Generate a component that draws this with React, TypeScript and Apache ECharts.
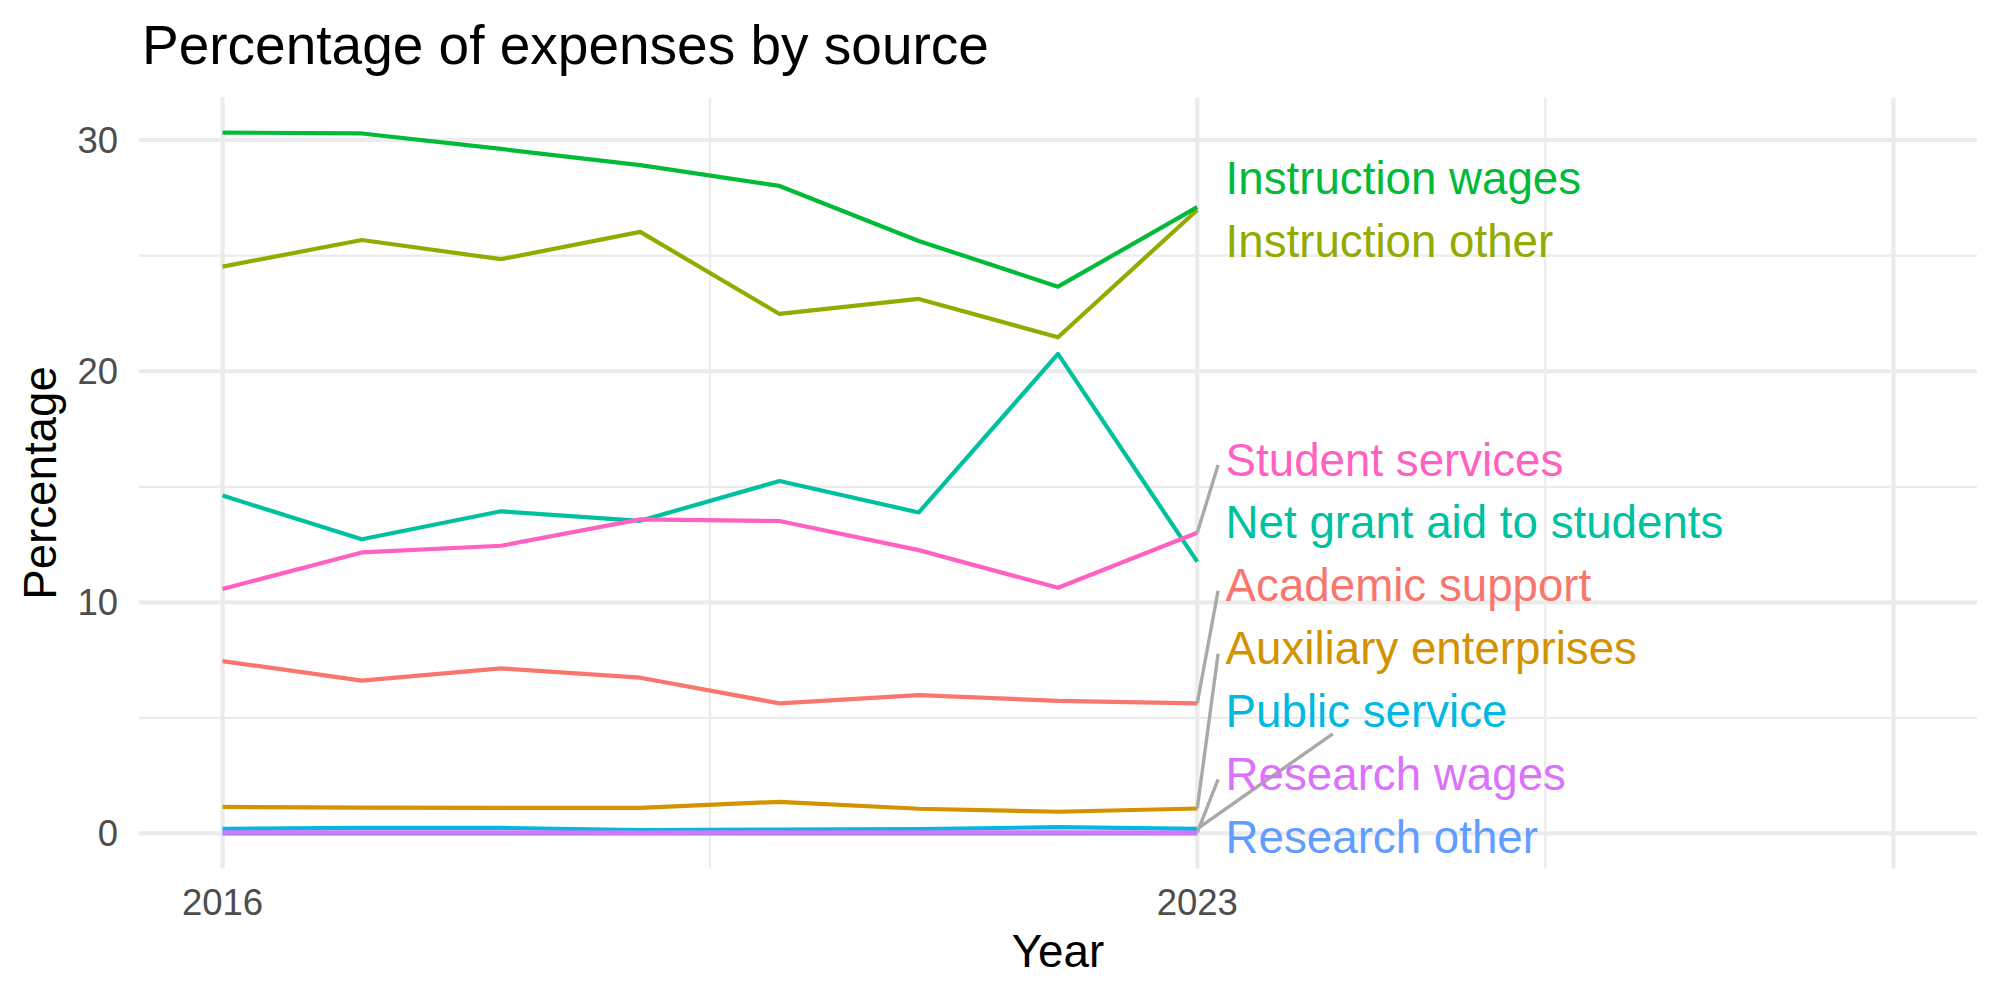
import React, { useEffect, useRef } from "react";
import * as echarts from "echarts";

// Share of total expenses by source, 2016–2023 (percent)
const years = [2016, 2017, 2018, 2019, 2020, 2021, 2022, 2023];
const academicSupport = [7.46, 6.61, 7.14, 6.74, 5.63, 5.99, 5.74, 5.63];
const auxiliaryEnterprises = [1.15, 1.12, 1.11, 1.11, 1.37, 1.07, 0.94, 1.08];
const instructionOther = [24.53, 25.68, 24.85, 26.03, 22.48, 23.13, 21.47, 26.98];
const instructionWages = [30.33, 30.29, 29.62, 28.92, 28.02, 25.64, 23.66, 27.1];
const netGrantAid = [14.62, 12.73, 13.94, 13.53, 15.25, 13.89, 20.75, 11.76];
const publicService = [0.2, 0.24, 0.24, 0.14, 0.17, 0.19, 0.27, 0.2];
const researchOther = [0, 0, 0, 0, 0, 0, 0, 0];
const researchWages = [0.05, 0.05, 0.05, 0.04, 0.05, 0.05, 0.05, 0.04];
const studentServices = [10.58, 12.16, 12.45, 13.59, 13.52, 12.26, 10.63, 13.01];

const sourceNames = [
  "Academic support",
  "Auxiliary enterprises",
  "Instruction other",
  "Instruction wages",
  "Net grant aid to students",
  "Public service",
  "Research other",
  "Research wages",
  "Student services",
];
const sourceValues = [
  academicSupport,
  auxiliaryEnterprises,
  instructionOther,
  instructionWages,
  netGrantAid,
  publicService,
  researchOther,
  researchWages,
  studentServices,
];
const sourceColors = [
  "#F8766D",
  "#D39200",
  "#93AA00",
  "#00BA38",
  "#00C19F",
  "#00B9E3",
  "#619CFF",
  "#DB72FB",
  "#FF61C3",
];

// Axis breaks
const yTickLabels = [0, 10, 20, 30];
const yMinorBreaks = [5, 15, 25];
const xTickLabels = [2016, 2023];
const xMajorBreaks = [2016, 2023, 2028];
const xMinorBreaks = [2019.5, 2025.5];
const xLimits = [2016, 2028];

// Styling / layout
const FONT = '"Liberation Sans", Arial, Helvetica, sans-serif';
const GRID_COLOR = "#EBEBEB";
const TITLE_SIZE = 55;
const AXIS_TITLE_SIZE = 45.7;
const TICK_SIZE = 36.5;
const LABEL_SIZE = 45.7;
const LINE_WIDTH = 4.2;
const LABEL_NUDGE = 0.2; // years to the right of the last point
const LABEL_GAP = 2.72; // minimum vertical spacing between labels, in percentage points
const LABEL_FLOOR = -0.12;
const SEGMENT_MIN = 2.2;
const BOX_PAD_X = 7;
const BOX_HALF_H = 23.3;
const BOX_DROP = 6;
const bottomConnected = ["Public service"];

const expand = (lo: number, hi: number) => {
  const d = (hi - lo) * 0.05;
  return [lo - d, hi + d];
};
const allValues = sourceValues.flat();
const [X_MIN, X_MAX] = expand(xLimits[0], xLimits[1]);
const [Y_MIN, Y_MAX] = expand(Math.min(...allValues), Math.max(...allValues));

const lastYear = years[years.length - 1];
const LABEL_X = lastYear + LABEL_NUDGE;

// Spread end labels apart so they don't overlap, keeping them inside the panel
function spreadLabels(targets: number[], gap: number, floor: number): number[] {
  const order = targets.map((_, i) => i).sort((a, b) => targets[b] - targets[a]);
  const pos = targets.slice();
  for (let it = 0; it < 5000; it++) {
    for (let k = 0; k < order.length - 1; k++) {
      const a = order[k];
      const b = order[k + 1];
      const d = pos[a] - pos[b];
      if (d < gap) {
        const s = (gap - d) / 2;
        pos[a] += s;
        pos[b] -= s;
      }
    }
    for (const i of order) if (pos[i] < floor) pos[i] = floor;
  }
  return pos;
}

function measureText(text: string, size: number): number {
  const c = document.createElement("canvas").getContext("2d");
  if (!c) return text.length * size * 0.5;
  c.font = `${size}px ${FONT}`;
  return c.measureText(text).width;
}

function gridSeries(): any[] {
  const mk = (data: number[][], width: number) => ({
    type: "line",
    data,
    showSymbol: false,
    symbol: "none",
    silent: true,
    z: 1,
    clip: true,
    lineStyle: { color: GRID_COLOR, width },
    emphasis: { disabled: true },
  });
  const out: any[] = [];
  yMinorBreaks.forEach((v) => out.push(mk([[X_MIN, v], [X_MAX, v]], 2.2)));
  xMinorBreaks.forEach((v) => out.push(mk([[v, Y_MIN], [v, Y_MAX]], 2.2)));
  yTickLabels.forEach((v) => out.push(mk([[X_MIN, v], [X_MAX, v]], 4.2)));
  xMajorBreaks.forEach((v) => out.push(mk([[v, Y_MIN], [v, Y_MAX]], 4.2)));
  return out;
}

export default function App() {
  const ref = useRef<HTMLDivElement>(null);

  useEffect(() => {
    document.body.style.margin = "0";
    const el = ref.current!;
    const chart = echarts.init(el, null, { renderer: "svg" });

    const lastValues = sourceValues.map((v) => v[v.length - 1]);
    const labelPos = spreadLabels(lastValues, LABEL_GAP, LABEL_FLOOR);

    const lineSeries = sourceNames.map((name, i) => ({
      type: "line",
      name,
      data: years.map((y, j) => [y, sourceValues[i][j]]),
      showSymbol: false,
      symbol: "none",
      z: 2,
      lineStyle: { color: sourceColors[i], width: LINE_WIDTH, join: "round" },
      itemStyle: { color: sourceColors[i] },
      emphasis: { disabled: true },
    }));

    const labelSeries = {
      type: "scatter",
      z: 4,
      silent: true,
      symbolSize: 1,
      itemStyle: { color: "rgba(0,0,0,0)", opacity: 1 },
      data: sourceNames.map((name, i) => ({
        name,
        value: [LABEL_X, labelPos[i]],
        label: { color: sourceColors[i] },
      })),
      label: {
        show: true,
        position: "right",
        distance: 0,
        offset: [0, 1],
        formatter: "{b}",
        fontFamily: FONT,
        fontSize: LABEL_SIZE,
        verticalAlign: "middle",
        align: "left",
        opacity: 1,
      },
      emphasis: { disabled: true },
    };

    const baseSeries = [...gridSeries(), ...lineSeries, labelSeries];

    const option: any = {
      animation: false,
      backgroundColor: "#FFFFFF",
      textStyle: { fontFamily: FONT },
      title: {
        text: "Percentage of expenses by source",
        left: 137,
        top: 12,
        textStyle: {
          fontFamily: FONT,
          fontSize: TITLE_SIZE,
          fontWeight: "normal",
          color: "#000000",
          lineHeight: TITLE_SIZE,
        },
      },
      grid: { left: 139, top: 97.5, width: 1838, height: 771, containLabel: false },
      xAxis: {
        type: "value",
        min: X_MIN,
        max: X_MAX,
        name: "Year",
        nameLocation: "middle",
        nameGap: 82.5,
        nameTextStyle: {
          fontFamily: FONT,
          fontSize: AXIS_TITLE_SIZE,
          color: "#000000",
          verticalAlign: "middle",
        },
        axisLine: { show: false },
        axisTick: { show: false },
        splitLine: { show: false },
        axisLabel: {
          customValues: xTickLabels,
          formatter: (v: number) => String(v),
          fontFamily: FONT,
          fontSize: TICK_SIZE,
          color: "#4D4D4D",
          margin: 34,
          verticalAlign: "middle",
        },
      },
      yAxis: {
        type: "value",
        min: Y_MIN,
        max: Y_MAX,
        name: "Percentage",
        nameLocation: "middle",
        nameRotate: 90,
        nameGap: 99,
        nameTextStyle: {
          fontFamily: FONT,
          fontSize: AXIS_TITLE_SIZE,
          color: "#000000",
          verticalAlign: "middle",
          align: "center",
        },
        axisLine: { show: false },
        axisTick: { show: false },
        splitLine: { show: false },
        axisLabel: {
          customValues: yTickLabels,
          formatter: (v: number) => String(v),
          fontFamily: FONT,
          fontSize: TICK_SIZE,
          color: "#4D4D4D",
          margin: 21,
        },
      },
      series: baseSeries,
    };

    chart.setOption(option);

    // Connector segments from the last point to labels that were pushed away
    const toPx = (p: number[]) => chart.convertToPixel({ gridIndex: 0 }, p) as number[];
    const toData = (p: number[]) => chart.convertFromPixel({ gridIndex: 0 }, p) as number[];
    const connectors: any[] = [];
    sourceNames.forEach((name, i) => {
      if (Math.abs(labelPos[i] - lastValues[i]) < SEGMENT_MIN) return;
      const p = toPx([lastYear, lastValues[i]]);
      const a = toPx([LABEL_X, labelPos[i]]);
      let end: number[];
      if (bottomConnected.includes(name)) {
        const w = measureText(name, LABEL_SIZE);
        const cx = a[0] + w / 2;
        const cy = a[1];
        const bottom = a[1] + BOX_HALF_H;
        const t = (p[1] - bottom) / (p[1] - cy);
        end = [p[0] + t * (cx - p[0]), bottom];
      } else {
        end = [a[0] - BOX_PAD_X, a[1] + BOX_DROP];
      }
      connectors.push({
        type: "line",
        data: [[lastYear, lastValues[i]], toData(end)],
        showSymbol: false,
        symbol: "none",
        silent: true,
        z: 3,
        clip: false,
        lineStyle: { color: "#A9A9A9", width: 3.4 },
        emphasis: { disabled: true },
      });
    });

    chart.setOption({ series: [...baseSeries, ...connectors] });

    return () => chart.dispose();
  }, []);

  return <div ref={ref} style={{ width: 2000, height: 1000 }} />;
}
